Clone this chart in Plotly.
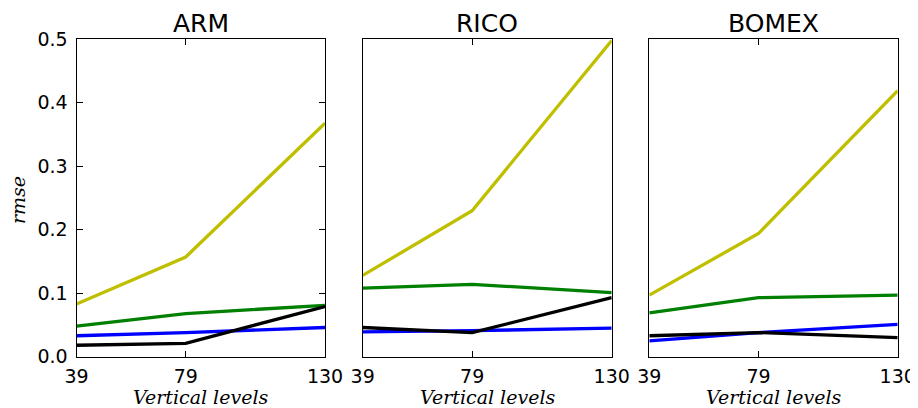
import plotly.graph_objects as go

levels = [39, 79, 130]
panels = ["ARM", "RICO", "BOMEX"]

arm_yellow = [0.083, 0.157, 0.368]
arm_green = [0.048, 0.068, 0.081]
arm_blue = [0.033, 0.038, 0.046]
arm_black = [0.018, 0.021, 0.079]

rico_yellow = [0.128, 0.230, 0.498]
rico_green = [0.108, 0.114, 0.101]
rico_blue = [0.039, 0.041, 0.045]
rico_black = [0.046, 0.038, 0.093]

bomex_yellow = [0.097, 0.194, 0.419]
bomex_green = [0.069, 0.093, 0.097]
bomex_blue = [0.025, 0.038, 0.051]
bomex_black = [0.033, 0.038, 0.030]

yticks = [0.0, 0.1, 0.2, 0.3, 0.4, 0.5]

series = [
    [arm_yellow, arm_green, arm_blue, arm_black],
    [rico_yellow, rico_green, rico_blue, rico_black],
    [bomex_yellow, bomex_green, bomex_blue, bomex_black],
]
colors = ["#bfbf00", "#008000", "#0000ff", "#000000"]

# page has an 8px body margin; figure sized to fit the window
OFF = 8
W, H = 918 - OFF, 408 - OFF


def px(x):
    return (x - OFF) / W


def py(y):
    return 1 - (y - OFF) / H


xdoms = [(76.5, 325.0), (362.7, 611.7), (649.3, 897.7)]
ytop, ybot = 39.3, 356.7
ydom = [py(ybot), py(ytop)]

fig = go.Figure()
for i, group in enumerate(series):
    xa = "x" if i == 0 else f"x{i+1}"
    ya = "y" if i == 0 else f"y{i+1}"
    for vals, c in zip(group, colors):
        fig.add_trace(go.Scatter(x=levels, y=vals, mode="lines",
                                 line=dict(color=c, width=3.3),
                                 xaxis=xa, yaxis=ya, showlegend=False,
                                 hoverinfo="skip"))

tickfont = dict(family="DejaVu Sans", size=19, color="black")
labfont = dict(family="DejaVu Serif", size=19, color="black")
layout = dict(width=W, height=H, margin=dict(l=0, r=0, t=0, b=0, autoexpand=False),
              paper_bgcolor="white", plot_bgcolor="white", showlegend=False)
annotations = []
for i in range(3):
    k = "" if i == 0 else str(i + 1)
    x0, x1 = xdoms[i]
    layout["xaxis" + k] = dict(
        domain=[px(x0), px(x1)], range=[39, 130], tickvals=levels,
        ticktext=[str(v) for v in levels], ticks="inside", ticklen=6,
        tickcolor="black", showline=True, linecolor="black", linewidth=1,
        mirror="allticks", showgrid=False, zeroline=False, tickfont=tickfont,
        anchor="y" + k, ticklabelstandoff=2, automargin=False,
    )
    ydict = dict(
        domain=ydom, range=[0, 0.5], tickvals=yticks, showline=True,
        linecolor="black", linewidth=1, showgrid=False, zeroline=False,
        anchor="x" + k, tickfont=tickfont, automargin=False,
    )
    if i == 0:
        ydict.update(ticktext=[f"{v:.1f}" for v in yticks], ticks="inside",
                     ticklen=6, tickcolor="black", mirror="allticks",
                     ticklabelstandoff=4)
    else:
        ydict.update(showticklabels=False, ticks="", mirror=True)
    layout["yaxis" + k] = ydict
    cx = px((x0 + x1) / 2)
    annotations.append(dict(text=panels[i], x=cx, y=1, xref="paper",
                            yref="paper", showarrow=False, xanchor="center",
                            yanchor="top", borderpad=0,
                            font=dict(family="DejaVu Sans", size=25, color="black")))
    annotations.append(dict(text="<i>Vertical levels</i>", x=cx, y=py(397),
                            xref="paper", yref="paper", showarrow=False,
                            xanchor="center", yanchor="middle", font=labfont))
annotations.append(dict(text="<i>rmse</i>", x=px(18), y=py(200), xref="paper",
                        yref="paper", showarrow=False, textangle=-90,
                        xanchor="center", yanchor="middle", font=labfont))
layout["annotations"] = annotations
fig.update_layout(**layout)
fig.write_html("out.html")
